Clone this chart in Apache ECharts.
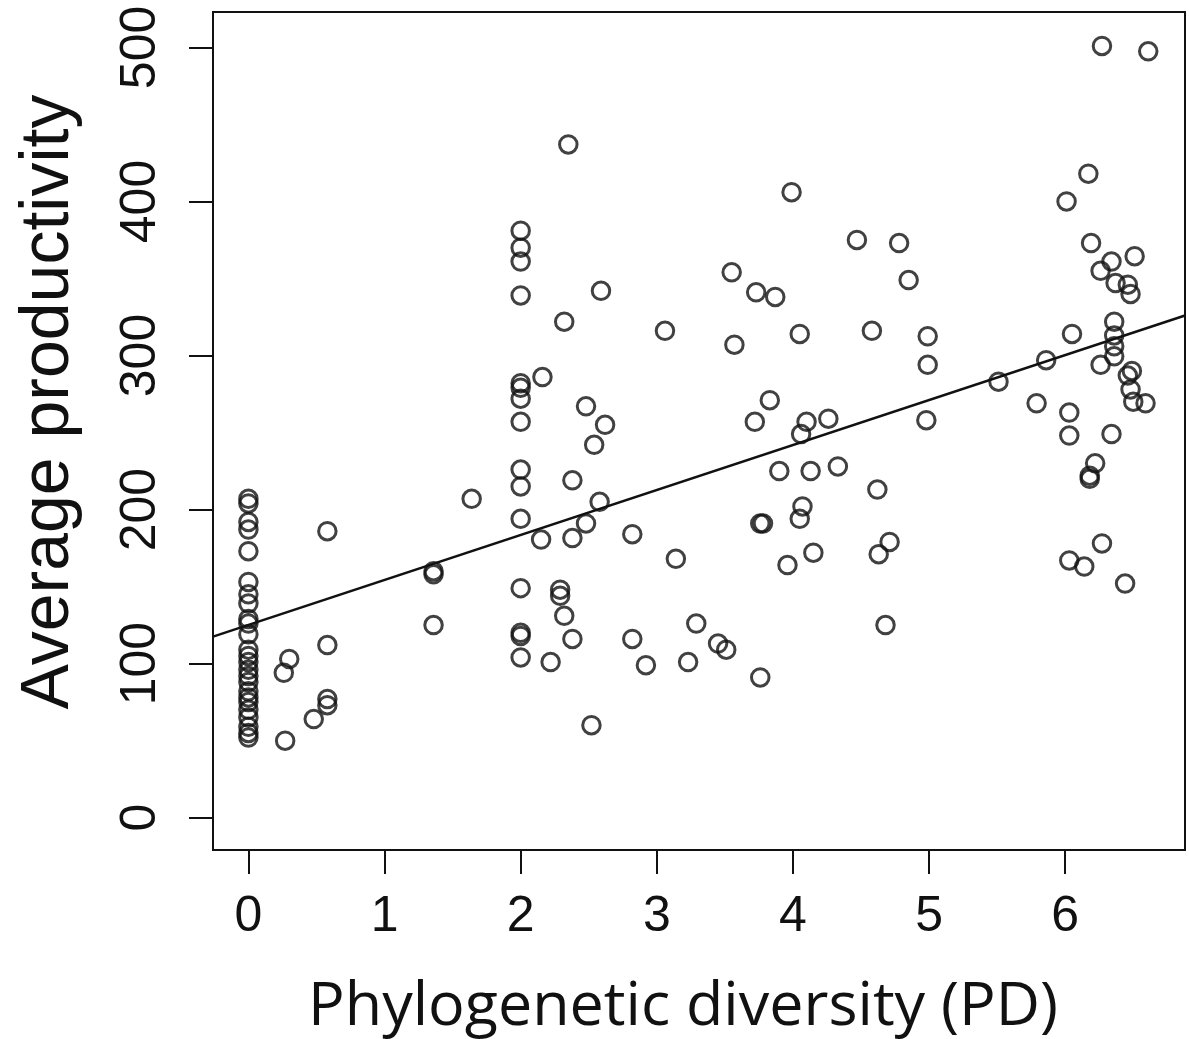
<!DOCTYPE html>
<html>
<head>
<meta charset="utf-8">
<script src="https://cdn.jsdelivr.net/npm/echarts@6/dist/echarts.min.js"></script>
<style>
html,body{margin:0;padding:0;background:#fff;}
#chart{width:1189px;height:1039px;}
</style>
</head>
<body>
<div id="chart"></div>
<script>
// Phylogenetic diversity (x) of each plot
var pdValues = [
  0,0,0,0,0,0,0,0,0,0,0,0,0,0,0,0,0,0,0,0,0,0,0,0,0,
  0.58,0.58,0.30,0.26,0.58,0.58,0.48,0.27,
  1.36,1.36,1.36,1.64,
  2,2,2,2,2,2,2,2,2,2,2,2,2,2,2,
  2.35,2.59,2.32,3.06,2.16,2.48,2.62,2.54,2.38,2.58,2.48,2.15,2.38,2.82,3.14,2.29,2.29,2.32,2.38,2.82,3.29,2.22,2.92,3.23,2.52,
  3.99,4.47,4.78,3.55,4.85,3.73,3.87,4.05,4.58,4.99,3.57,4.99,3.83,3.72,4.10,4.26,4.06,4.98,
  3.90,4.13,4.33,4.62,4.07,4.05,3.76,3.78,4.71,4.63,4.15,3.96,4.68,3.45,3.51,3.76,
  5.51,5.79,5.86,
  6.27,6.61,6.17,6.01,6.19,6.51,6.34,6.26,6.37,6.46,6.48,6.36,6.36,6.36,6.36,6.05,6.26,6.49,6.46,6.48,6.50,6.59,6.03,6.03,6.34,6.22,6.18,6.18,6.27,6.03,6.14,6.44
];
// Average productivity (y) of each plot
var productivityValues = [
  207,204,192,187,173,153,145,139,129,126,119,109,105,101,96,92,88,82,78,75,70,65,59,55,52,
  186,112,103,94,77,73,64,50,
  158,160,125,207,
  381,370,361,339,282,279,272,257,226,215,194,149,120,118,104,
  437,342,322,316,286,267,255,242,219,205,191,180.5,181.5,184,168,148,144,131,116,116,126,101,99,101,60,
  406,375,373,354,349,341,338,314,316,312.5,307,294,271,257,257,259,249,258,
  225,225,228,213,202,194,191,191,179,171,172,164,125,113,109,91,
  283,269,297,
  501,497.5,418,400,373,364.5,361,355,347,346,340,322,313,306,299.5,314,294,290,287,278,270,269,263,248,249,230,220,222,178,167,163,152
];
// Fitted regression line, endpoints read at the plot edges
var fitX = [-0.26, 6.88];
var fitY = [117.5, 326];
// Tick labels
var xTicks = [0,1,2,3,4,5,6];
var yTicks = [0,100,200,300,400,500];

var points = pdValues.map(function(x,i){return [x, productivityValues[i]];});
var fitLine = fitX.map(function(x,i){return [x, fitY[i]];});

var chart = echarts.init(document.getElementById('chart'), null, {renderer:'canvas'});
chart.setOption({
  backgroundColor:'#ffffff',
  animation:false,
  grid:{left:213,right:4,top:12,bottom:189,outerBoundsMode:'none',containLabel:false,show:true,borderColor:'#111',borderWidth:2,backgroundColor:'transparent'},
  xAxis:{
    type:'value',min:-0.26,max:6.88,
    name:'Phylogenetic diversity (PD)',nameLocation:'middle',nameGap:127,
    nameTextStyle:{fontFamily:'Open Sans',fontSize:61,color:'#111',padding:[0,32,0,0]},
    axisLine:{show:true,onZero:false,lineStyle:{color:'#111',width:2}},
    axisTick:{show:true,inside:false,length:24,customValues:xTicks,lineStyle:{color:'#111',width:2}},
    axisLabel:{show:true,customValues:xTicks,margin:42,fontFamily:'Liberation Sans',fontSize:50,color:'#111'},
    splitLine:{show:false}
  },
  yAxis:{
    type:'value',min:-21,max:523,
    name:'Average productivity',nameLocation:'middle',nameGap:130,nameRotate:90,
    nameTextStyle:{fontFamily:'Liberation Sans',fontSize:68,color:'#111',padding:[0,0,0,58]},
    axisLine:{show:true,onZero:false,lineStyle:{color:'#111',width:2}},
    axisTick:{show:true,inside:false,length:24,customValues:yTicks,lineStyle:{color:'#111',width:2}},
    axisLabel:{show:true,customValues:yTicks,rotate:90,margin:47,fontFamily:'Liberation Sans',fontSize:50,color:'#111'},
    splitLine:{show:false}
  },
  series:[
    {
      type:'scatter',data:points,symbol:'circle',symbolSize:17.5,
      itemStyle:{color:'rgba(0,0,0,0)',borderColor:'#111',borderWidth:3},
      emphasis:{disabled:true},z:3
    },
    {
      type:'line',data:fitLine,showSymbol:false,symbol:'none',
      lineStyle:{color:'#111',width:2.5},z:2
    }
  ]
});
</script>
</body>
</html>
